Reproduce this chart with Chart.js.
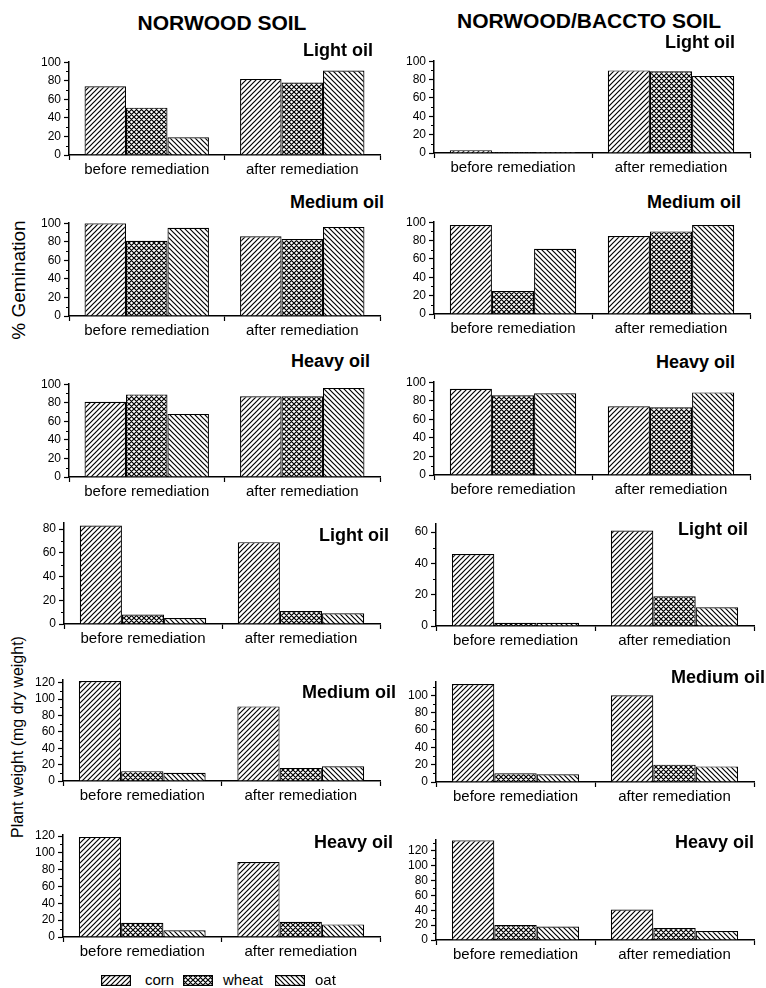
<!DOCTYPE html>
<html>
<head>
<meta charset="utf-8">
<script src="https://cdn.jsdelivr.net/npm/chart.js@4.4.1/dist/chart.umd.min.js"></script>
<style>
  body { margin: 0; width: 766px; height: 988px; background: #fff; position: relative; overflow: hidden;
         font-family: "Liberation Sans", Arial, sans-serif; color: #000; }
  canvas.panel { position: absolute; }
  .head { position: absolute; font-weight: bold; font-size: 21px; line-height: 21px; white-space: nowrap; transform: translateX(-50%); }
  .ttl { position: absolute; font-weight: bold; font-size: 18px; line-height: 18px; white-space: nowrap; text-align: right; }
  .ylab { position: absolute; white-space: nowrap; transform: translate(-50%, -50%) rotate(-90deg); }
  .leg { position: absolute; font-size: 15px; line-height: 15px; white-space: nowrap; }
  canvas.sw { position: absolute; }
</style>
</head>
<body>

<div class="head" style="left:222px; top:12px;">NORWOOD SOIL</div>
<div class="head" style="left:589px; top:10px;">NORWOOD/BACCTO SOIL</div>
<div class="ylab" style="left:19px; top:280px; font-size:19px;">% Gemination</div>
<div class="ylab" style="left:18px; top:737px; font-size:16px;">Plant weight (mg dry weight)</div>

<script>
// categories and series
const categories = ['before remediation', 'after remediation'];
const crops = ['corn', 'wheat', 'oat'];

// % germination, each row = [before, after] for corn, wheat, oat
const germNorwoodLight  = [[74, 82], [51, 78], [19, 91]];
const germNorwoodMedium = [[100, 86], [81, 83], [95, 96]];
const germNorwoodHeavy  = [[81, 87], [89, 87], [68, 96]];
const germBacctoLight   = [[3, 90], [1, 89], [1, 84]];
const germBacctoMedium  = [[97, 85], [25, 90], [71, 97]];
const germBacctoHeavy   = [[93, 74], [86, 73], [88, 89]];

// plant weight (mg dry weight)
const wtNorwoodLight  = [[83, 69], [8, 11], [5, 9]];
const wtNorwoodMedium = [[122, 91], [12, 16], [10, 18]];
const wtNorwoodHeavy  = [[119, 89], [17, 18], [8, 15]];
const wtBacctoLight   = [[46, 61], [2, 19], [2, 12]];
const wtBacctoMedium  = [[113, 100], [10, 20], [9, 18]];
const wtBacctoHeavy   = [[134, 41], [20, 16], [18, 12]];

// y axis tops
const germMax = 100;
const wtMax = [85, 123, 121, 65, 115, 134];
const majorStep = 20;
const minorStep = 10;

// layout: plot area edges in page pixels, title right edge / caps top
const panels = [
  { data: germNorwoodLight,  max: germMax,  area: [69, 62, 380, 155],  title: 'Light oil',  tx: 373, ty: 43 },
  { data: germNorwoodMedium, max: germMax,  area: [69, 223, 380, 316], title: 'Medium oil', tx: 384, ty: 195 },
  { data: germNorwoodHeavy,  max: germMax,  area: [69, 384, 380, 477], title: 'Heavy oil',  tx: 370, ty: 354 },
  { data: germBacctoLight,   max: germMax,  area: [434, 61, 750, 153], title: 'Light oil',  tx: 735, ty: 35 },
  { data: germBacctoMedium,  max: germMax,  area: [434, 222, 750, 314], title: 'Medium oil', tx: 741, ty: 195 },
  { data: germBacctoHeavy,   max: germMax,  area: [434, 382, 750, 475], title: 'Heavy oil',  tx: 735, ty: 355 },
  { data: wtNorwoodLight,    max: wtMax[0], area: [64, 523, 380, 624], title: 'Light oil',  tx: 389, ty: 528 },
  { data: wtNorwoodMedium,   max: wtMax[1], area: [63, 680, 380, 781], title: 'Medium oil', tx: 396, ty: 685 },
  { data: wtNorwoodHeavy,    max: wtMax[2], area: [63, 835, 380, 937], title: 'Heavy oil',  tx: 393, ty: 835 },
  { data: wtBacctoLight,     max: wtMax[3], area: [436, 524, 754, 626], title: 'Light oil',  tx: 748, ty: 522 },
  { data: wtBacctoMedium,    max: wtMax[4], area: [436, 682, 754, 782], title: 'Medium oil', tx: 765, ty: 670 },
  { data: wtBacctoHeavy,     max: wtMax[5], area: [436, 840, 754, 940], title: 'Heavy oil',  tx: 754, ty: 835 }
];

const Y_W = 40, PAD_T = 10, PAD_R = 3, X_H = 26;
const FONT = '"Liberation Sans", Arial, sans-serif';

function makePattern(ctx, kind) {
  const s = 5;
  const c = document.createElement('canvas');
  c.width = s; c.height = s;
  const g = c.getContext('2d');
  g.fillStyle = '#fff';
  g.fillRect(0, 0, s, s);
  g.strokeStyle = '#000';
  g.lineWidth = 1.2;
  g.beginPath();
  if (kind === 'fwd' || kind === 'cross') {
    g.moveTo(0, s); g.lineTo(s, 0);
    g.moveTo(-1, 1); g.lineTo(1, -1);
    g.moveTo(s - 1, s + 1); g.lineTo(s + 1, s - 1);
  }
  if (kind === 'back' || kind === 'cross') {
    g.moveTo(0, 0); g.lineTo(s, s);
    g.moveTo(s - 1, -1); g.lineTo(s + 1, 1);
    g.moveTo(-1, s - 1); g.lineTo(1, s + 1);
  }
  g.stroke();
  return ctx.createPattern(c, 'repeat');
}
const patternKinds = ['fwd', 'cross', 'back'];

// short unlabeled ticks between the labelled ones
const minorTicks = {
  id: 'minorTicks',
  afterDraw(chart) {
    const y = chart.scales.y, ctx = chart.ctx;
    ctx.save();
    ctx.strokeStyle = '#000';
    ctx.lineWidth = 1;
    for (let v = minorStep; v <= y.max; v += majorStep) {
      const py = Math.round(y.getPixelForValue(v)) + 0.5;
      ctx.beginPath();
      ctx.moveTo(y.right - 3, py);
      ctx.lineTo(y.right, py);
      ctx.stroke();
    }
    ctx.restore();
  }
};

function buildPanel(p) {
  const [l, t, r, b] = p.area;
  const cv = document.createElement('canvas');
  cv.className = 'panel';
  const left = l - Y_W, top = t - PAD_T;
  const w = r - left + PAD_R, h = b - top + X_H;
  cv.width = w; cv.height = h;
  cv.style.left = left + 'px'; cv.style.top = top + 'px';
  cv.style.width = w + 'px'; cv.style.height = h + 'px';
  document.body.appendChild(cv);
  const ctx = cv.getContext('2d');

  new Chart(ctx, {
    type: 'bar',
    data: {
      labels: categories,
      datasets: crops.map((crop, i) => ({
        label: crop,
        data: p.data[i],
        backgroundColor: makePattern(ctx, patternKinds[i]),
        borderColor: '#000',
        borderWidth: 1.2,
        barPercentage: 1,
        categoryPercentage: 0.8
      }))
    },
    options: {
      responsive: false,
      animation: false,
      layout: { padding: { top: PAD_T, right: PAD_R, left: 0, bottom: 0 } },
      plugins: { legend: { display: false }, tooltip: { enabled: false }, title: { display: false } },
      scales: {
        x: {
          type: 'category',
          offset: true,
          grid: { offset: true, drawOnChartArea: false, drawTicks: true, tickLength: 5, tickColor: '#000', tickWidth: 1.2 },
          border: { color: '#000', width: 1.5 },
          ticks: { color: '#000', font: { size: 15, family: FONT }, padding: 1, maxRotation: 0, autoSkip: false },
          afterFit: s => { s.height = X_H; }
        },
        y: {
          min: 0,
          max: p.max,
          grid: { drawOnChartArea: false, drawTicks: true, tickLength: 5, tickColor: '#000', tickWidth: 1.2 },
          border: { color: '#000', width: 1.5 },
          ticks: { stepSize: majorStep, color: '#000', font: { size: 12, family: FONT }, padding: 3, autoSkip: false },
          afterBuildTicks: s => {
            const list = [];
            for (let v = 0; v <= s.max; v += majorStep) list.push({ value: v });
            s.ticks = list;
          },
          afterFit: s => { s.width = Y_W; }
        }
      }
    },
    plugins: [minorTicks]
  });

  const tt = document.createElement('div');
  tt.className = 'ttl';
  tt.textContent = p.title;
  tt.style.right = (766 - p.tx) + 'px';
  tt.style.top = (p.ty - 2.4) + 'px';
  document.body.appendChild(tt);
}

panels.forEach(buildPanel);

// legend
const legendLeft = [101, 183, 275];
const legendTextLeft = [145, 223, 315];
crops.forEach((crop, i) => {
  const sw = document.createElement('canvas');
  sw.className = 'sw';
  sw.width = 30; sw.height = 11;
  sw.style.left = legendLeft[i] + 'px';
  sw.style.top = '975px';
  document.body.appendChild(sw);
  const g = sw.getContext('2d');
  g.fillStyle = makePattern(g, patternKinds[i]);
  g.fillRect(0, 0, 30, 11);
  g.strokeStyle = '#000';
  g.lineWidth = 1.2;
  g.strokeRect(0.6, 0.6, 28.8, 9.8);
  const tx = document.createElement('div');
  tx.className = 'leg';
  tx.textContent = crop;
  tx.style.left = legendTextLeft[i] + 'px';
  tx.style.top = '972px';
  document.body.appendChild(tx);
});
</script>
</body>
</html>
